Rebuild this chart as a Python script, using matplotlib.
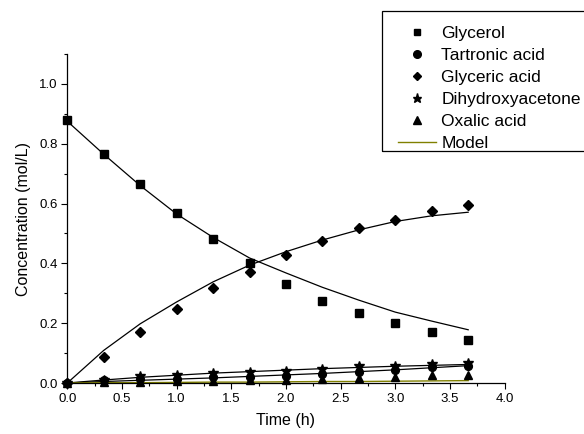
import matplotlib
matplotlib.use("Agg")
import matplotlib.pyplot as plt
from matplotlib.ticker import MultipleLocator, FormatStrFormatter
from matplotlib.lines import Line2D
from matplotlib.patches import Rectangle

plt.rcParams['font.family'] = ['Liberation Sans', 'DejaVu Sans']

time_h = [0.0, 0.333, 0.667, 1.0, 1.333, 1.667, 2.0, 2.333, 2.667, 3.0, 3.333, 3.667]

glycerol = [0.880, 0.766, 0.667, 0.568, 0.483, 0.401, 0.331, 0.273, 0.235, 0.200, 0.169, 0.144]
tartronic = [0.000, 0.011, 0.012, 0.013, 0.019, 0.021, 0.025, 0.030, 0.036, 0.044, 0.053, 0.056]
glyceric = [0.000, 0.088, 0.169, 0.246, 0.319, 0.371, 0.428, 0.476, 0.518, 0.546, 0.574, 0.595]
dha = [0.000, 0.010, 0.022, 0.028, 0.034, 0.037, 0.041, 0.046, 0.056, 0.058, 0.064, 0.066]
oxalic = [0.000, 0.003, 0.005, 0.006, 0.008, 0.009, 0.011, 0.013, 0.016, 0.021, 0.026, 0.026]

model_glycerol = [0.875, 0.765, 0.660, 0.565, 0.487, 0.418, 0.368, 0.320, 0.277, 0.237, 0.207, 0.178]
model_glyceric = [0.000, 0.109, 0.198, 0.271, 0.338, 0.394, 0.439, 0.478, 0.512, 0.540, 0.559, 0.571]
model_dha = [0.000, 0.010, 0.019, 0.026, 0.033, 0.038, 0.043, 0.048, 0.052, 0.056, 0.059, 0.062]
model_tartronic = [0.000, 0.005, 0.009, 0.013, 0.017, 0.022, 0.027, 0.032, 0.038, 0.044, 0.051, 0.058]
model_oxalic = [0.000, 0.001, 0.001, 0.002, 0.003, 0.003, 0.004, 0.005, 0.005, 0.006, 0.007, 0.008]

labels = ['Glycerol', 'Tartronic acid', 'Glyceric acid', 'Dihydroxyacetone', 'Oxalic acid', 'Model']
x_ticks = [0.0, 0.5, 1.0, 1.5, 2.0, 2.5, 3.0, 3.5, 4.0]
y_ticks = [0.0, 0.2, 0.4, 0.6, 0.8, 1.0]

W, H = 584, 434
fig = plt.figure(figsize=(W/100, H/100), dpi=100)
ax = fig.add_axes([67.3/W, 1-383.0/H, (504.6-67.3)/W, (383.0-54.0)/H])

# model lines
for m in (model_glycerol, model_glyceric, model_dha, model_tartronic):
    ax.plot(time_h, m, color='black', lw=0.9, zorder=2, clip_on=False)
ax.plot(time_h, model_oxalic, color='#808000', lw=1.0, zorder=2, clip_on=False)

# data
kw = dict(linestyle='none', color='black', zorder=3, clip_on=False)
ax.plot(time_h, glycerol, marker='s', ms=5.3, **kw)
ax.plot(time_h, oxalic, marker='^', ms=6.0, **kw)
ax.plot(time_h, tartronic, marker='o', ms=5.6, **kw)
ax.plot(time_h, dha, marker='*', ms=7.5, **kw)
ax.plot(time_h, glyceric, marker='D', ms=4.8, **kw)

ax.set_xlim(0, 4.0)
ax.set_ylim(0, 1.1)
ax.set_xticks(x_ticks)
ax.set_yticks(y_ticks)
ax.xaxis.set_minor_locator(MultipleLocator(0.25))
ax.yaxis.set_minor_locator(MultipleLocator(0.1))
ax.xaxis.set_major_formatter(FormatStrFormatter('%.1f'))
ax.yaxis.set_major_formatter(FormatStrFormatter('%.1f'))
ax.tick_params(which='major', direction='out', length=4, width=0.8, labelsize=9.5, pad=3)
ax.tick_params(which='minor', direction='out', length=2.5, width=0.8)
for s in ('top', 'right'):
    ax.spines[s].set_visible(False)
for s in ('left', 'bottom'):
    ax.spines[s].set_linewidth(0.9)

ax.set_xlabel('Time (h)', fontsize=11.5, labelpad=6)
ax.set_ylabel('Concentration (mol/L)', fontsize=11.5, labelpad=6)

handles = [
    Line2D([], [], ls='none', marker='s', color='black', ms=5),
    Line2D([], [], ls='none', marker='o', color='black', ms=5.5),
    Line2D([], [], ls='none', marker='D', color='black', ms=4.5),
    Line2D([], [], ls='none', marker='*', color='black', ms=6.5),
    Line2D([], [], ls='none', marker='^', color='black', ms=5.5),
    Line2D([], [], color='#808000', lw=1.0),
]
fig.legend(handles, labels, loc='upper left', bbox_to_anchor=(398/W, 1-25.5/H),
           fontsize=12.5, frameon=False, labelspacing=0.40, handlelength=2.2,
           handletextpad=0.3, borderpad=0, borderaxespad=0)
fig.patches.append(Rectangle((382/W, 1-151/H), 240/W, 140/H, transform=fig.transFigure,
                             fill=False, edgecolor='black', lw=0.9, zorder=5))

fig.savefig('out.png', dpi=100)
